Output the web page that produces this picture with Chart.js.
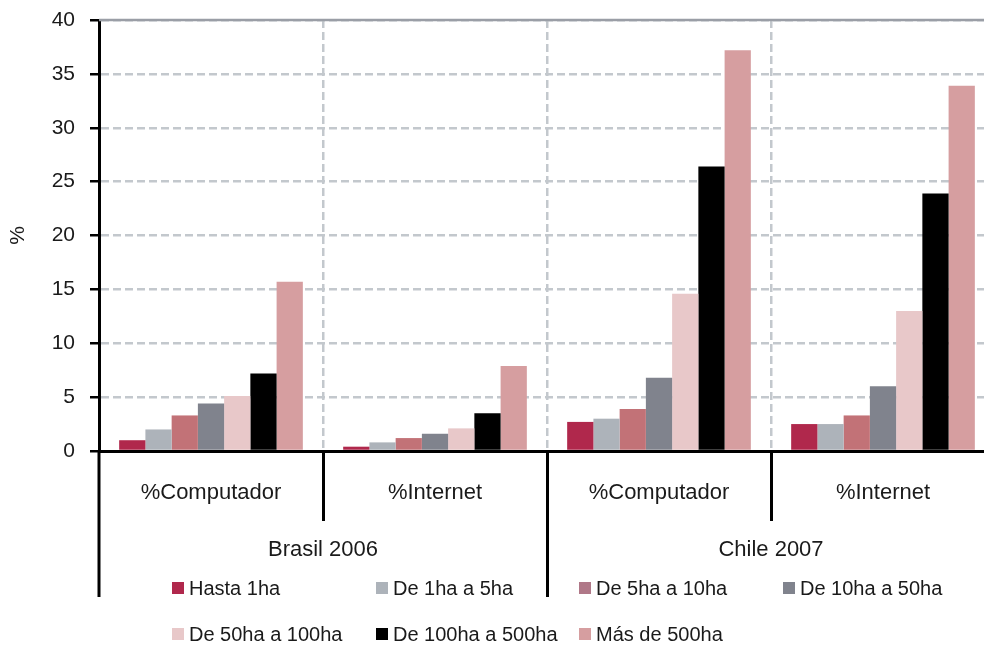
<!DOCTYPE html>
<html>
<head>
<meta charset="utf-8">
<script src="https://cdn.jsdelivr.net/npm/chart.js@4.4.1/dist/chart.umd.min.js"></script>
<style>
html,body{margin:0;padding:0;background:#fff;overflow:hidden;width:984px;height:645px;}
#wrap{width:996px;height:645px;}
</style>
</head>
<body>
<div id="wrap"><canvas id="c" width="996" height="645"></canvas></div>
<script>
// ---- data ----
const subCategories = ['%Computador', '%Internet', '%Computador', '%Internet'];
const groupCategories = ['Brasil 2006', 'Chile 2007'];
const seriesNames = ['Hasta 1ha', 'De 1ha a 5ha', 'De 5ha a 10ha', 'De 10ha a 50ha',
                     'De 50ha a 100ha', 'De 100ha a 500ha', 'Más de 500ha'];
const hasta1 = [1.0, 0.4, 2.7, 2.5];
const de1a5 = [2.0, 0.8, 3.0, 2.5];
const de5a10 = [3.3, 1.2, 3.9, 3.3];
const de10a50 = [4.4, 1.6, 6.8, 6.0];
const de50a100 = [5.1, 2.1, 14.6, 13.0];
const de100a500 = [7.2, 3.5, 26.4, 23.9];
const mas500 = [15.7, 7.9, 37.2, 33.9];
const yTicks = [0, 5, 10, 15, 20, 25, 30, 35, 40];

// ---- styles ----
const barColors = ['#b0284c', '#adb3ba', '#c27277', '#80838d', '#e8c8c9', '#000000', '#d69ea0'];
const legendColors = ['#b0284c', '#adb3ba', '#b07888', '#80838d', '#e8c8c9', '#000000', '#d69ea0'];
const FONT = "'Liberation Sans', Arial, sans-serif";
const GRID = '#c3c8cd';

const seriesValues = [hasta1, de1a5, de5a10, de10a50, de50a100, de100a500, mas500];
const datasets = seriesNames.map((name, i) => ({
  label: name,
  data: seriesValues[i],
  backgroundColor: barColors[i],
  borderWidth: 0,
  categoryPercentage: 0.82,
  barPercentage: 1.0,
  xAxisID: 'x'
}));

const separatorPlugin = {
  id: 'separators',
  afterDraw(chart) {
    const ctx = chart.ctx;
    const xs = chart.scales.x;
    const ys = chart.scales.y;
    const n = subCategories.length;
    const w = (xs.right - xs.left) / n;
    ctx.save();
    // solid top line at max
    const yTop = Math.round(ys.getPixelForValue(yTicks[yTicks.length - 1]));
    ctx.strokeStyle = '#9a9ea6';
    ctx.lineWidth = 2.5;
    ctx.beginPath();
    ctx.moveTo(xs.left, yTop);
    ctx.lineTo(xs.right, yTop);
    ctx.stroke();

    ctx.strokeStyle = '#000';
    ctx.lineWidth = 3;
    // sub-category boundaries
    for (let i = 1; i < n; i++) {
      const x = Math.round(xs.left + i * w) + 0.5;
      ctx.beginPath();
      ctx.moveTo(x, xs.top);
      ctx.lineTo(x, xs.bottom);
      ctx.stroke();
    }
    // group boundaries
    const per = n / groupCategories.length;
    for (let g = 0; g <= groupCategories.length; g++) {
      const x = Math.round(xs.left + g * per * w) + (g === 0 ? 0 : 0.5);
      ctx.beginPath();
      ctx.moveTo(x, xs.top);
      ctx.lineTo(x, chart.scales.x2.bottom - 4);
      ctx.stroke();
    }
    // legend
    const colX = [172, 376, 579, 783];
    const rowY = [588, 634];
    ctx.font = '20px ' + FONT;
    ctx.textBaseline = 'middle';
    ctx.textAlign = 'left';
    seriesNames.forEach((name, i) => {
      const x = colX[i % 4];
      const y = rowY[Math.floor(i / 4)];
      ctx.fillStyle = legendColors[i];
      ctx.fillRect(x, y - 6, 12, 12);
      ctx.fillStyle = '#1a1a1a';
      ctx.fillText(name, x + 17, y + 1);
    });
    ctx.restore();
  }
};

new Chart(document.getElementById('c'), {
  type: 'bar',
  data: { labels: subCategories, datasets },
  options: {
    responsive: false,
    animation: false,
    layout: { padding: { left: 0, right: 1, top: 20, bottom: 44 } },
    plugins: { legend: { display: false }, tooltip: { enabled: false } },
    scales: {
      y: {
        min: 0, max: 40,
        afterBuildTicks: (s) => { s.ticks = yTicks.map(v => ({ value: v })); },
        afterFit: (s) => { s.width = 99; s.paddingTop = 0; s.paddingBottom = 0; },
        ticks: { color: '#1a1a1a', font: { family: FONT, size: 21 }, padding: 15 },
        grid: { color: GRID, lineWidth: 2.5, tickColor: '#000', tickLength: 9, tickBorderDash: [], tickWidth: 2.5 },
        border: { display: true, color: '#000', width: 3, dash: [8, 4] },
        title: { display: true, text: '%', color: '#1a1a1a', font: { family: FONT, size: 21 }, padding: { top: 6, bottom: 0 } }
      },
      x: {
        position: 'bottom',
        afterFit: (s) => { s.height = 70; },
        ticks: { color: '#1a1a1a', font: { family: FONT, size: 22 }, padding: 29, maxRotation: 0 },
        grid: { offset: true, color: GRID, lineWidth: 2.5, drawTicks: false },
        border: { display: true, color: '#000', width: 3, dash: [8, 4] }
      },
      x2: {
        type: 'category',
        position: 'bottom',
        labels: groupCategories,
        offset: true,
        afterFit: (s) => { s.height = 80; },
        ticks: { color: '#1a1a1a', font: { family: FONT, size: 22 }, padding: 16, maxRotation: 0 },
        grid: { display: false, drawTicks: false },
        border: { display: false }
      }
    }
  },
  plugins: [separatorPlugin]
});
</script>
</body>
</html>
